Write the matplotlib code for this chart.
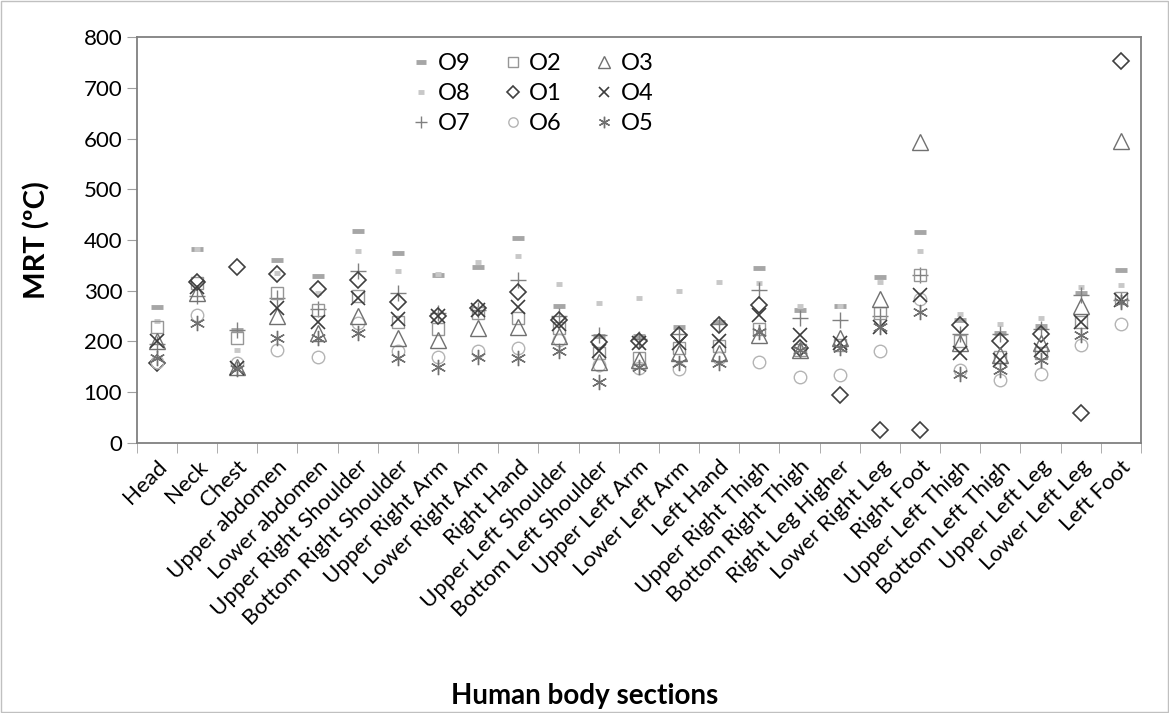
import numpy as np
import matplotlib
matplotlib.use("Agg")
import matplotlib.pyplot as plt

plt.rcParams['font.family'] = ['Lato', 'DejaVu Sans']

sections = ["Head", "Neck", "Chest", "Upper abdomen", "Lower abdomen",
            "Upper Right Shoulder", "Bottom Right Shoulder", "Upper Right Arm",
            "Lower Right Arm", "Right Hand", "Upper Left Shoulder",
            "Bottom Left Shoulder", "Upper Left Arm", "Lower Left Arm",
            "Left Hand", "Upper Right Thigh", "Bottom Right Thigh",
            "Right Leg Higher", "Lower Right Leg", "Right Foot",
            "Upper Left Thigh", "Bottom Left Thigh", "Upper Left Leg",
            "Lower Left Leg", "Left Foot"]

O1 = [157, 318, 346, 333, 303, 321, 277, 250, 265, 298, 243, 198, 200, 213, 233,
      272, 187, 95, 25, 25, 233, 200, 215, 58, 753]
O2 = [229, 315, 206, 296, 262, 290, 239, 224, 255, 246, 226, 177, 167, 187, 191,
      224, 183, 193, 256, 331, 200, 170, 177, 239, 285]
O3 = [200, 295, 150, 249, 216, 249, 206, 202, 226, 229, 210, 160, 164, 177, 177,
      213, 183, 206, 283, 593, 196, 173, 196, 269, 595]
O4 = [200, 308, 147, 265, 239, 285, 244, 249, 262, 267, 234, 180, 196, 196, 200,
      252, 212, 196, 229, 292, 177, 164, 183, 239, 282]
O5 = [167, 236, 145, 206, 206, 216, 167, 150, 169, 167, 180, 119, 150, 157, 157,
      219, 183, 187, 229, 258, 136, 144, 164, 213, 278]
O6 = [160, 252, 157, 183, 169, 236, 181, 170, 180, 187, 203, 154, 147, 145, 167,
      160, 129, 134, 180, 283, 144, 123, 136, 193, 234]
O7 = [195, 290, 222, 285, 263, 338, 295, 255, 262, 321, 250, 213, 205, 215, 235,
      301, 246, 242, 250, 331, 215, 215, 225, 292, 282]
O8 = [241, 382, 183, 335, 295, 379, 338, 333, 357, 368, 313, 275, 285, 300, 318,
      315, 269, 269, 318, 378, 254, 234, 246, 308, 311]
O9 = [267, 382, 223, 360, 329, 417, 374, 331, 346, 403, 270, 211, 210, 229, 239,
      344, 262, 270, 326, 416, 242, 216, 231, 296, 341]

fig = plt.figure(figsize=(11.69, 7.13), dpi=100)
ax = fig.add_axes([0.117, 0.379, 0.859, 0.569])

x = np.arange(len(sections))

# series drawn in legend order (column-wise fill gives Excel's layout)
styles = [
    ("O9", O9, dict(marker="_", ms=9, mew=3.5, color="#a6a6a6")),
    ("O8", O8, dict(marker="_", ms=5, mew=3.5, color="#c8c8c8")),
    ("O7", O7, dict(marker="+", ms=11, mew=1, color="#808080")),
    ("O2", O2, dict(marker="s", ms=9, mew=1, color="#969696", mfc="none")),
    ("O1", O1, dict(marker="D", ms=8, mew=1.2, color="#404040", mfc="none")),
    ("O6", O6, dict(marker="o", ms=9, mew=1, color="#b4b4b4", mfc="none")),
    ("O3", O3, dict(marker="^", ms=11, mew=1, color="#707070", mfc="none")),
    ("O4", O4, dict(marker="x", ms=10, mew=1.2, color="#3c3c3c")),
    ("O5", O5, dict(marker=(6, 2, 0), ms=11, mew=1, color="#707070")),
]
for name, vals, st in styles:
    ax.plot(x, vals, ls="none", label=name, **st)

ax.set_xlim(-0.5, len(sections) - 0.5)
ax.set_ylim(0, 800)
ax.set_yticks(range(0, 801, 100))
ax.tick_params(axis="y", labelsize=16, length=7, color="#a0a0a0")
ax.set_xticks(x)
ax.set_xticklabels(sections, rotation=45, ha="right", rotation_mode="anchor",
                   fontsize=16)
ax.tick_params(axis="x", length=0, pad=10)
ax.set_xticks(np.arange(-0.5, len(sections), 1), minor=True)
ax.tick_params(axis="x", which="minor", length=7, color="#a0a0a0")

for sp in ax.spines.values():
    sp.set_color("#808080")
    sp.set_linewidth(1.3)

ax.set_ylabel("MRT (ºC)", fontsize=21, fontweight="bold", labelpad=24)
fig.text(0.5, 0.012, "Human body sections", ha="center", va="baseline",
         fontsize=20, fontweight="bold")

ax.legend(ncol=3, loc="upper left", bbox_to_anchor=(0.25, 1.012), frameon=False,
          fontsize=17, handletextpad=0.2, columnspacing=1.3, labelspacing=0.38,
          handlelength=1.0, markerscale=0.75)

border = plt.Rectangle((0.001, 0.001), 0.998, 0.998, transform=fig.transFigure,
                       fill=False, edgecolor="#c0c0c0", lw=1)
fig.patches.append(border)

fig.savefig("out.png", dpi=100)
